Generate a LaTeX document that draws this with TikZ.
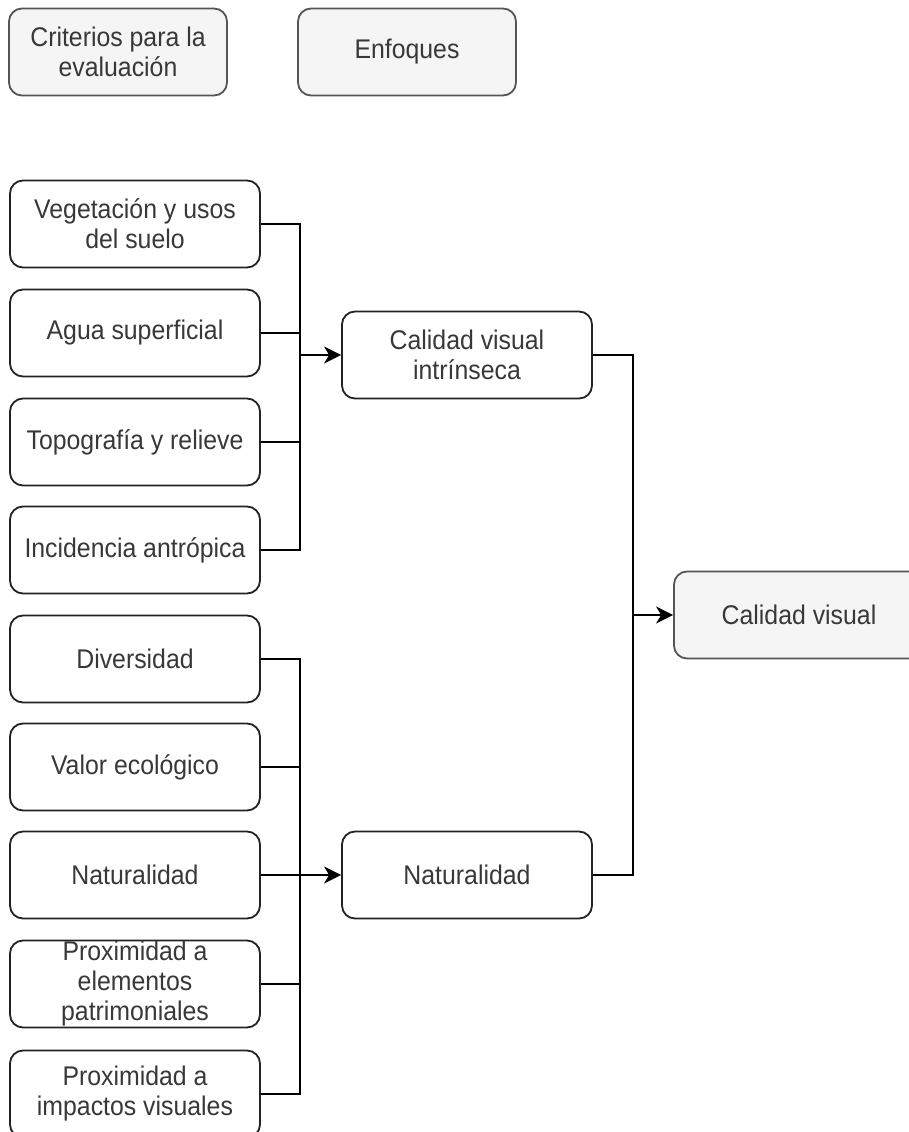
\documentclass[tikz,border=0pt]{standalone}
\usepackage{fontspec}
\setmainfont{Liberation Sans}[FakeStretch=0.92]
\usetikzlibrary{arrows.meta}
\definecolor{txt}{HTML}{383838}
\definecolor{edge}{HTML}{222222}
\definecolor{hdrfill}{HTML}{F5F5F5}
\definecolor{hdredge}{HTML}{555555}
\tikzset{
  box/.style={draw=edge, line width=1.8pt, rounded corners=13pt, fill=white,
    minimum width=250pt, minimum height=87pt, inner sep=0pt, align=center,
    text=txt, font=\fontsize{27}{30}\selectfont},
  hdr/.style={box, draw=hdredge, fill=hdrfill, minimum width=218pt},
  link/.style={draw=black, line width=2pt},
  flow/.style={link, -{Stealth[length=17pt, width=17pt, inset=5pt]}}
}
\begin{document}
\begin{tikzpicture}[x=1pt, y=-1pt]
\useasboundingbox (0,0) rectangle (909,1132);

% header boxes
\node[hdr] (crit) at (118,52) {Criterios para la\\evaluación};
\node[hdr] (enf) at (407,52) {Enfoques};

% criteria, first group
\node[box] (veg) at (135,224) {Vegetación y usos\\del suelo};
\node[box] (agua) at (135,333) {Agua superficial};
\node[box] (topo) at (135,442) {Topografía y relieve};
\node[box] (inc) at (135,550) {Incidencia antrópica};

% criteria, second group
\node[box] (div) at (135,659) {Diversidad};
\node[box] (eco) at (135,767) {Valor ecológico};
\node[box] (natc) at (135,875) {Naturalidad};
\node[box] (pat) at (135,984) {Proximidad a\\elementos\\patrimoniales};
\node[box] (imp) at (135,1094) {Proximidad a\\impactos visuales};

% approaches
\node[box] (civ) at (467,355) {Calidad visual\\intrínseca};
\node[box] (nat) at (467,875) {Naturalidad};
\node[hdr, minimum width=250pt] (cv) at (799,615) {Calidad visual};

% junction points of the buses
\coordinate (j1) at (300,355);
\coordinate (j2) at (300,875);
\coordinate (j3) at (633,615);

% first bus
\draw[link] (veg.east) -| (j1);
\draw[link] (agua.east) -| (j1);
\draw[link] (topo.east) -| (j1);
\draw[link] (inc.east) -| (j1);
\draw[flow] (j1) -- (civ.west);

% second bus
\draw[link] (div.east) -| (j2);
\draw[link] (eco.east) -| (j2);
\draw[link] (pat.east) -| (j2);
\draw[link] (imp.east) -| (j2);
\draw[flow] (natc.east) -- (nat.west);

% final bus
\draw[link] (civ.east) -| (j3);
\draw[link] (nat.east) -| (j3);
\draw[flow] (j3) -- (cv.west);
\end{tikzpicture}
\end{document}
